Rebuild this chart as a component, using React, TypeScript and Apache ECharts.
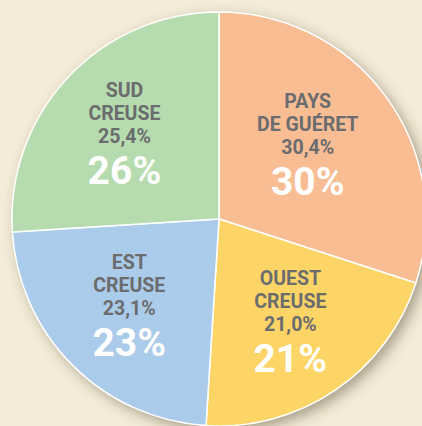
import React, { useEffect, useRef } from "react";
import * as echarts from "echarts";

const names = ["PAYS\nDE GUÉRET", "OUEST\nCREUSE", "EST\nCREUSE", "SUD\nCREUSE"];
const exactShares = [30.4, 21.0, 23.1, 25.4];
const roundedShares = [30, 21, 23, 26];
const colors = ["#f9bd94", "#fdd567", "#abcbea", "#b5dbae"];

const FONT = "Roboto, 'DejaVu Sans', sans-serif";

export default function App() {
  const ref = useRef<HTMLDivElement>(null);
  useEffect(() => {
    document.body.style.margin = "0";
    const chart = echarts.init(ref.current!, null, { renderer: "svg" });
    const center = [219, 219];
    const R = 207;
    const data = roundedShares.map((v, i) => ({
      value: v,
      name: names[i],
      itemStyle: { color: colors[i] },
    }));
    const labelTweaks: Record<number, number[]> = { 0: [-14, 3], 3: [-2, 4] };
    const labelData = roundedShares.map((v, i) => ({
      value: v,
      name: names[i],
      label: {
        offset: labelTweaks[i] || [0, 0],
        formatter:
          names[i]
            .split("\n")
            .map((s) => `{a|${s}}`)
            .join("\n") +
          `\n{a|${exactShares[i].toFixed(1).replace(".", ",")}%}\n{b|${v}%}`,
      },
    }));
    chart.setOption({
      animation: false,
      backgroundColor: "#f4ecd9",
      series: [
        {
          type: "pie",
          silent: true,
          center,
          radius: [0, R],
          data: [{ value: 1 }],
          label: { show: false },
          labelLine: { show: false },
          itemStyle: {
            color: "#ffffff",
            shadowBlur: 14,
            shadowColor: "rgba(70,60,35,0.45)",
            shadowOffsetX: 5,
            shadowOffsetY: 5,
          },
        },
        {
          type: "pie",
          silent: true,
          center,
          radius: [0, R],
          startAngle: 90,
          clockwise: true,
          data,
          label: { show: false },
          labelLine: { show: false },
          itemStyle: { borderColor: "#ffffff", borderWidth: 1.5 },
        },
        {
          type: "pie",
          silent: true,
          center,
          radius: [0, 248],
          startAngle: 90,
          clockwise: true,
          data: labelData,
          itemStyle: { color: "transparent" },
          labelLine: { show: false },
          label: {
            show: true,
            position: "inside",
            align: "center",
            rich: {
              a: {
                fontFamily: FONT,
                fontWeight: "bold",
                fontSize: 19.5,
                lineHeight: 23,
                color: "#6b6c6e",
                align: "center",
              },
              b: {
                fontFamily: FONT,
                fontWeight: "bold",
                fontSize: 39,
                lineHeight: 46,
                color: "#ffffff",
                align: "center",
              },
            },
          },
        },
      ],
    });
    return () => chart.dispose();
  }, []);
  return <div ref={ref} style={{ width: 422, height: 426 }} />;
}
